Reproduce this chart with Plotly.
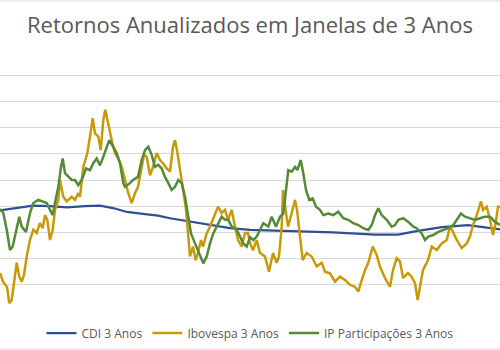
import plotly.graph_objects as go

# Retornos anualizados (%), janelas de 3 anos; t = índice do período
cdi_t = [0, 15, 33, 50, 67, 85, 100, 113, 127, 145, 158, 170, 185, 208, 230, 250, 290, 333, 375, 398, 418, 442, 468, 482, 500]
cdi_v = [9.2, 9.65, 10.1, 10.0, 9.8, 10.0, 10.1, 9.65, 8.9, 8.5, 8.2, 7.7, 7.2, 6.4, 5.8, 5.5, 5.3, 5.0, 4.6, 4.6, 5.3, 6.0, 6.4, 6.1, 5.6]

ibov_t = [0, 3, 7, 9.3, 11.7, 15, 16.7, 19.3, 21.7, 24, 26.7, 30, 33.3, 36.7, 40, 42.7, 45, 47.3, 50, 52.7,
          55, 58.3, 60, 63.3, 66.7, 71.7, 75, 78.3, 80, 83.3, 87.3, 90, 92.7, 95, 98.3, 100.7, 103.3, 105.3, 107.3, 110,
          112.7, 115, 118.3, 121.7, 125, 128, 131.7, 135, 138, 141.7, 144, 146.7, 150, 153, 156.7, 160, 163, 166.7, 170, 173,
          175, 177, 180, 183, 185.7, 188, 190, 193, 195.7, 198, 201, 203, 206.7, 210, 213, 216.7, 218, 221.7, 225, 228,
          231.7, 235, 238, 241.7, 245, 248, 250, 253, 256.7, 260, 265, 269, 273, 276.7, 279, 281.7, 283, 286, 288, 291.7,
          295, 297, 300, 302.7, 306.7, 311.7, 316.7, 321.7, 325, 330, 335, 340, 345, 350, 355, 358.3, 361.7, 365,
          368.3, 372.7, 376.7, 380, 385, 390, 393, 396.7, 400, 403, 408, 411.7, 415, 417.7, 420, 423, 428, 431.7,
          436.7, 441.7, 446.7, 450, 453, 456.7, 461.7, 466.7, 470, 473, 476.7, 481, 483, 486.7, 490, 493, 495.7, 498, 500]
ibov_v = [-2.75, -4.4, -5.4, -8.5, -7.9, -2.8, -0.8, -3.5, -4.4, -3.1, 0.4, 3.55, 5.5, 4.9, 6.8, 5.8, 8.3, 7.4, 3.55, 5.5,
          9.3, 11.2, 15.0, 11.8, 10.9, 11.8, 11.2, 12.5, 11.8, 17.5, 20.1, 23.3, 26.8, 23.9, 23.3, 20.7, 26.45, 28.4, 26.45, 24.0,
          21.7, 20.1, 19.1, 17.5, 15.0, 12.7, 10.6, 12.5, 13.7, 17.5, 19.8, 19.45, 15.9, 17.5, 20.15, 18.8, 18.2, 17.2, 16.6, 21.35,
          22.6, 20.7, 16.9, 13.1, 9.9, 4.9, 0.4, 2.3, -0.3, 1.07, 3.55, 2.3, 4.8, 6.1, 7.4, 9.3, 9.9, 8.7, 9.3, 7.4,
          9.3, 6.1, 3.55, 2.3, 4.9, 4.9, 3.0, 1.6, 3.55, 1.07, 0.4, -2.5, 1.07, -0.8, 0.4, 6.1, 13.1, 8.7, 6.1, 8.7,
          11.2, 9.3, 3.55, -0.3, 1.07, 0.4, -1.5, -0.8, -2.5, -2.8, -4.4, -3.45, -4.1, -5.0, -5.4, -6.3, -4.1, -2.2,
          -0.8, 2.3, 0.7, -1.55, -3.7, -5.4, -2.2, 0.06, -0.5, -3.7, -2.75, -3.5, -4.7, -7.9, -5.4, -2.2, -0.27, 2.3,
          1.64, 2.9, 3.55, 6.1, 5.1, 3.55, 2.0, 2.9, 4.2, 6.4, 8.3, 10.9, 9.3, 9.9, 7.4, 4.5, 6.8, 9.9, 9.9]

ip_t = [0, 3.3, 6.7, 10, 12.7, 16, 19.3, 21.7, 26, 30, 33.3, 38.3, 41.7, 46.7, 50, 52.7, 55, 58.3, 61, 62.7,
        65, 68.3, 71.7, 75, 78.3, 81.7, 86, 90, 93.3, 96.7, 100, 103.3, 106.7, 109.3, 113.3, 116.7, 120, 123.3, 125, 130,
        133, 138, 141.7, 145, 148.3, 151.7, 155, 158.3, 161.7, 165, 168.3, 171.7, 175, 178.3, 181.7, 185, 188.3, 191, 195, 199,
        203.3, 206.7, 210, 213.3, 216.7, 221.7, 225, 228.3, 231.7, 236.7, 240, 243.3, 246.7, 250, 253.3, 256.7, 260, 263.3, 268.3, 271.7,
        276, 280, 283.3, 286, 288.3, 291.7, 295, 297.3, 300.7, 303.3, 306, 309.3, 312.7, 316, 320, 323.3, 328.3, 333.3, 338.3, 343.3,
        348.3, 353.3, 358.3, 363.3, 368.3, 371.7, 375, 378.3, 381.7, 386.7, 391.7, 395, 398.3, 403.3, 408.3, 413.3, 416.7, 421.7,
        425, 428.3, 433.3, 438.3, 443.3, 448.3, 453.3, 456.7, 461, 465, 470, 475, 480, 485, 490, 495, 500]
ip_v = [9.45, 8.7, 5.5, 1.64, 2.3, 5.1, 8.0, 6.1, 5.1, 8.7, 10.6, 11.2, 10.9, 10.6, 9.3, 8.3, 10.6, 13.7, 17.5, 19.1,
        16.3, 15.6, 15.0, 15.0, 14.0, 15.0, 17.2, 16.9, 18.2, 19.1, 17.8, 19.45, 21.35, 22.6, 21.35, 20.1, 18.2, 14.4, 13.7, 14.4,
        15.0, 15.6, 18.8, 20.7, 21.35, 19.8, 17.5, 17.9, 17.2, 15.6, 14.4, 13.1, 13.7, 15.0, 14.4, 11.8, 8.0, 4.8, 2.9, 1.0,
        -0.9, 0.4, 2.9, 4.8, 6.1, 8.0, 7.4, 7.4, 6.1, 5.5, 4.2, 2.9, 2.3, 4.1, 3.55, 4.2, 5.5, 6.75, 6.1, 8.0,
        6.1, 8.0, 8.6, 12.5, 16.9, 16.6, 17.5, 16.9, 18.8, 16.3, 13.1, 11.2, 11.5, 9.9, 9.3, 8.3, 8.6, 8.3, 8.95, 7.7,
        7.4, 6.75, 6.4, 5.8, 5.46, 6.4, 8.3, 9.6, 8.3, 7.4, 6.1, 6.4, 7.4, 7.7, 7.0, 6.1, 5.8, 4.8,
        3.55, 4.2, 4.5, 5.1, 5.46, 5.8, 6.4, 7.4, 8.6, 8.0, 7.7, 7.4, 7.7, 8.0, 8.0, 7.0, 6.4]

names = ["CDI 3 Anos", "Ibovespa 3 Anos", "IP Participações 3 Anos"]
colors = ["#2E4F98", "#C89A0A", "#558A36"]

fig = go.Figure()
fig.add_trace(go.Scatter(x=cdi_t, y=cdi_v, name=names[0], mode="lines",
                         line=dict(color=colors[0], width=2.25)))
fig.add_trace(go.Scatter(x=ibov_t, y=ibov_v, name=names[1], mode="lines",
                         line=dict(color=colors[1], width=2.5)))
fig.add_trace(go.Scatter(x=ip_t, y=ip_v, name=names[2], mode="lines",
                         line=dict(color=colors[2], width=2.5)))

grid = "#D9D9D9"
fig.update_layout(
    width=500, height=350,
    margin=dict(l=0, r=0, t=49, b=39),
    paper_bgcolor="white", plot_bgcolor="white",
    font=dict(family="Open Sans", color="#595959"),
    title=dict(text="Retornos Anualizados em Janelas de 3 Anos", x=0.5, xanchor="center",
               y=1 - 25 / 350, yanchor="middle", yref="container",
               font=dict(size=22, color="#595959", family="Open Sans")),
    xaxis=dict(range=[0, 500], showgrid=False, showticklabels=False, zeroline=False,
               showline=False, ticks=""),
    yaxis=dict(range=[-10, 40], dtick=5, tick0=-10, showgrid=True, gridcolor=grid, gridwidth=1,
               showticklabels=False, zeroline=False, showline=False, ticks=""),
    legend=dict(orientation="h", x=0.5, xanchor="center", y=-22 / 262, yanchor="middle",
                font=dict(size=12, color="#595959"), itemwidth=30, tracegroupgap=0,
                bgcolor="rgba(0,0,0,0)"),
    showlegend=True,
    shapes=[
        dict(type="line", xref="paper", yref="paper", x0=0, x1=1, y0=(311 - 1) / 262, y1=(311 - 1) / 262,
             line=dict(color=grid, width=1)),
        dict(type="line", xref="paper", yref="paper", x0=0, x1=1, y0=(311 - 349) / 262, y1=(311 - 349) / 262,
             line=dict(color=grid, width=1)),
    ],
)

fig.write_html("out.html")
